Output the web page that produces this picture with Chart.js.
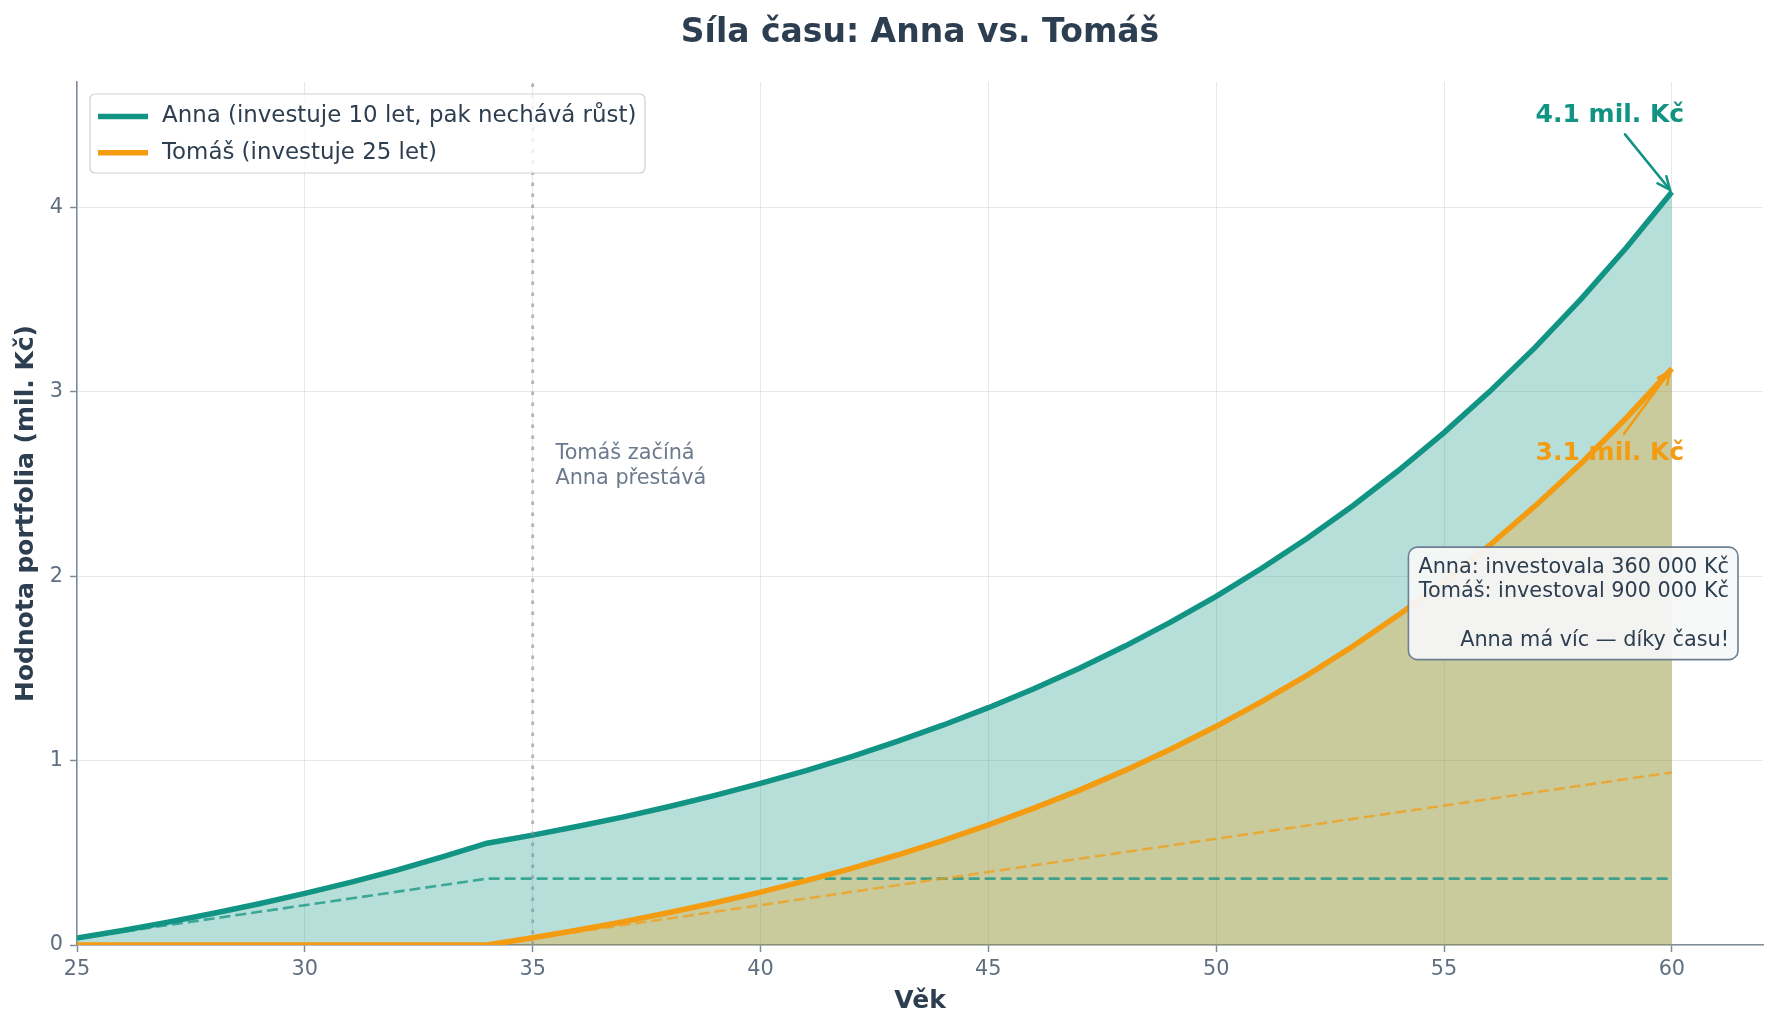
<!DOCTYPE html>
<html><head><meta charset="utf-8">
<script src="https://cdn.jsdelivr.net/npm/chart.js@4.4.1/dist/chart.umd.min.js"></script>
<style>html,body{margin:0;padding:0;background:#fff;}canvas{display:block;}</style>
</head><body>
<canvas id="c" width="1778" height="1030"></canvas>
<script>
// ---- data (mil. Kč) ----
const ages = [25,26,27,28,29,30,31,32,33,34,35,36,37,38,39,40,41,42,43,44,45,46,47,48,49,50,51,52,53,54,55,56,57,58,59,60];
const annaValue = [0.038,0.079,0.124,0.172,0.224,0.280,0.340,0.405,0.476,0.552,0.596,0.644,0.695,0.751,0.811,0.876,0.946,1.022,1.104,1.192,1.287,1.390,1.501,1.621,1.751,1.891,2.043,2.206,2.382,2.573,2.779,3.001,3.241,3.501,3.781,4.083];
const tomasValue = [0,0,0,0,0,0,0,0,0,0,0.039,0.081,0.127,0.176,0.229,0.287,0.349,0.416,0.488,0.566,0.651,0.742,0.840,0.947,1.062,1.186,1.320,1.464,1.620,1.789,1.971,2.168,2.381,2.610,2.858,3.126];
const annaInvested = [0.036,0.072,0.108,0.144,0.180,0.216,0.252,0.288,0.324,0.360,0.360,0.360,0.360,0.360,0.360,0.360,0.360,0.360,0.360,0.360,0.360,0.360,0.360,0.360,0.360,0.360,0.360,0.360,0.360,0.360,0.360,0.360,0.360,0.360,0.360,0.360];
const tomasInvested = [0,0,0,0,0,0,0,0,0,0,0.036,0.072,0.108,0.144,0.180,0.216,0.252,0.288,0.324,0.360,0.396,0.432,0.468,0.504,0.540,0.576,0.612,0.648,0.684,0.720,0.756,0.792,0.828,0.864,0.900,0.936];
const xTicks = [25,30,35,40,45,50,55,60];
const yTicks = [0,1,2,3,4];
const seriesLabels = ['Anna (investuje 10 let, pak nechává růst)', 'Tomáš (investuje 25 let)'];
const titleText = 'Síla času: Anna vs. Tomáš';
const xTitle = 'Věk';
const yTitle = 'Hodnota portfolia (mil. Kč)';
const switchAge = 35;
const switchText = ['Tomáš začíná', 'Anna přestává'];
const switchTextPos = {x: 35.5, y: 2.665};
const endLabels = [{text:'4.1 mil. Kč', x:58.64, y:4.497}, {text:'3.1 mil. Kč', x:58.64, y:2.667}];
const boxLines = ['Anna: investovala 360 000 Kč', 'Tomáš: investoval 900 000 Kč', '', 'Anna má víc — díky času!'];

const TEAL = '#119483';
const ORANGE = '#f39c12';
const DARK = '#2c3e50';
const GREY = '#5f6f80';
const SPINE = '#7f8c9a';
const FF = 'DejaVu Sans';

const pts = arr => arr.map((v,i)=>({x:ages[i], y:v}));

const decor = {
  id:'decor',
  afterDatasetsDraw(chart){
    const {ctx, chartArea:ca, scales:{x,y}} = chart;
    ctx.save();
    ctx.strokeStyle = 'rgba(135,143,156,0.62)';
    ctx.lineWidth = 3;
    ctx.setLineDash([3.5,7.5]);
    const px = x.getPixelForValue(switchAge);
    ctx.beginPath(); ctx.moveTo(px, ca.bottom); ctx.lineTo(px, ca.top); ctx.stroke();
    ctx.restore();
  },
  afterDraw(chart){
    const {ctx, chartArea:ca, scales:{x,y}} = chart;
    ctx.save();
    // title
    ctx.fillStyle = DARK; ctx.font = 'bold 33px '+FF; ctx.textAlign='center'; ctx.textBaseline='middle';
    ctx.fillText(titleText, (ca.left+ca.right)/2, 33);

    // switch annotation
    ctx.fillStyle = '#6b7a8c'; ctx.font = '20.8px '+FF; ctx.textAlign='left'; ctx.textBaseline='middle';
    const sx = x.getPixelForValue(switchTextPos.x), sy = y.getPixelForValue(switchTextPos.y);
    switchText.forEach((t,i)=>ctx.fillText(t, sx, sy + i*25));

    // end labels + arrows
    const ends = [{v:annaValue[annaValue.length-1], c:TEAL},{v:tomasValue[tomasValue.length-1], c:ORANGE}];
    endLabels.forEach((l,i)=>{
      const tx = x.getPixelForValue(l.x), ty = y.getPixelForValue(l.y);
      const ex = x.getPixelForValue(ages[ages.length-1]), ey = y.getPixelForValue(ends[i].v);
      ctx.fillStyle = ends[i].c; ctx.font = 'bold 25px '+FF; ctx.textAlign='center'; ctx.textBaseline='middle';
      ctx.fillText(l.text, tx, ty);
      const dx = ex-tx, dy = ey-ty, len = Math.hypot(dx,dy), ux = dx/len, uy = dy/len;
      const ax = tx + ux*24, ay = ty + uy*24, bx = ex - ux*3, by = ey - uy*3;
      ctx.strokeStyle = ends[i].c; ctx.lineWidth = 2.6; ctx.lineCap='round';
      ctx.beginPath(); ctx.moveTo(ax,ay); ctx.lineTo(bx,by); ctx.stroke();
      const ang = Math.atan2(dy,dx), hl = 14, ha = 0.42;
      ctx.beginPath();
      ctx.moveTo(bx - hl*Math.cos(ang-ha), by - hl*Math.sin(ang-ha));
      ctx.lineTo(bx,by);
      ctx.lineTo(bx - hl*Math.cos(ang+ha), by - hl*Math.sin(ang+ha));
      ctx.stroke();
    });

    // info box
    ctx.font = '20.8px '+FF;
    const maxW = Math.max(...boxLines.map(t=>ctx.measureText(t).width));
    const textRight = ca.right - 34;
    const boxTop = ca.top + ca.height*0.539;
    const lh = 24.5;
    const bx0 = textRight - maxW - 10, bw = maxW + 19, bh = lh*(boxLines.length-1) + 39;
    ctx.beginPath(); ctx.roundRect(bx0, boxTop, bw, bh, 9);
    ctx.fillStyle = 'rgba(246,248,248,0.93)'; ctx.fill();
    ctx.strokeStyle = '#6e7f90'; ctx.lineWidth = 1.6; ctx.stroke();
    ctx.fillStyle = DARK; ctx.textAlign='right'; ctx.textBaseline='middle';
    boxLines.forEach((t,i)=>{ if(t) ctx.fillText(t, textRight, boxTop + 20 + i*lh); });

    // legend
    const lx = ca.left + 13, ly = ca.top + 12, lw = 555, lhh = 79;
    ctx.beginPath(); ctx.roundRect(lx, ly, lw, lhh, 5);
    ctx.fillStyle = 'rgba(255,255,255,0.8)'; ctx.fill();
    ctx.strokeStyle = '#cfcfcf'; ctx.lineWidth = 1.2; ctx.stroke();
    [TEAL, ORANGE].forEach((c,i)=>{
      const yy = ly + 22.5 + i*36.3;
      ctx.strokeStyle = c; ctx.lineWidth = 5.5; ctx.lineCap='butt';
      ctx.beginPath(); ctx.moveTo(lx+8, yy); ctx.lineTo(lx+58, yy); ctx.stroke();
      ctx.fillStyle = DARK; ctx.font = '22.9px '+FF; ctx.textAlign='left'; ctx.textBaseline='middle';
      ctx.fillText(seriesLabels[i], lx+72, yy);
    });
    ctx.restore();
  }
};

Chart.defaults.font.family = FF;

new Chart(document.getElementById('c'), {
  type:'line',
  data:{
    datasets:[
      {label:seriesLabels[0], data:pts(annaValue), borderColor:TEAL, borderWidth:5.5, pointRadius:0, tension:0,
       fill:'origin', backgroundColor:'rgba(16,148,134,0.3)', order:4, clip:0},
      {label:seriesLabels[1], data:pts(tomasValue), borderColor:ORANGE, borderWidth:5.5, pointRadius:0, tension:0,
       fill:'origin', backgroundColor:'rgba(243,156,18,0.3)', order:3, clip:0},
      {label:'Anna vklady', data:pts(annaInvested), borderColor:'rgba(17,148,131,0.75)', borderWidth:2.6, borderDash:[11,5],
       pointRadius:0, tension:0, fill:false, order:6, clip:0},
      {label:'Tomáš vklady', data:pts(tomasInvested), borderColor:'rgba(243,156,18,0.7)', borderWidth:2.6, borderDash:[11,5],
       pointRadius:0, tension:0, fill:false, order:5, clip:0}
    ]
  },
  options:{
    responsive:false, maintainAspectRatio:false, devicePixelRatio:1, animation:false,
    layout:{padding:{left:0,right:15,top:82,bottom:0}},
    plugins:{legend:{display:false}, tooltip:{enabled:false}, title:{display:false},
             filler:{drawTime:'beforeDatasetsDraw'}},
    scales:{
      x:{type:'linear', min:25, max:62,
         afterBuildTicks:s=>{s.ticks = xTicks.map(v=>({value:v}));},
         afterFit:s=>{s.height = 85;},
         ticks:{color:GREY, font:{size:20.8}, padding:5, maxRotation:0},
         grid:{color:'rgba(0,0,0,0.09)', lineWidth:1, tickLength:7, tickColor:SPINE, tickWidth:1.5},
         border:{display:true, color:SPINE, width:1.5},
         title:{display:true, text:xTitle, color:DARK, font:{size:25, weight:'bold'}, padding:{top:4,bottom:14}}},
      y:{type:'linear', min:0, max:4.68,
         afterBuildTicks:s=>{s.ticks = yTicks.map(v=>({value:v}));},
         afterFit:s=>{s.width = 77;},
         ticks:{color:GREY, font:{size:20.8}, padding:7},
         grid:{color:'rgba(0,0,0,0.09)', lineWidth:1, tickLength:7, tickColor:SPINE, tickWidth:1.5},
         border:{display:true, color:SPINE, width:1.5},
         title:{display:true, text:yTitle, color:DARK, font:{size:25, weight:'bold'}, padding:{top:11,bottom:0}}}
    }
  },
  plugins:[decor]
});
</script>
</body></html>
